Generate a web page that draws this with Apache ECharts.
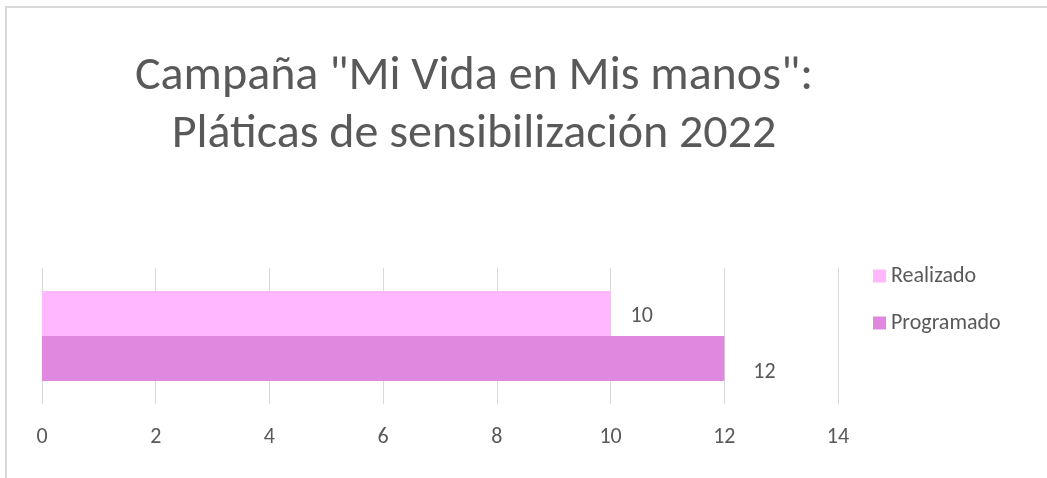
<!DOCTYPE html>
<html>
<head>
<meta charset="utf-8">
<style>
  html, body { margin: 0; padding: 0; background: #ffffff; }
  #chart { width: 1047px; height: 478px; }
</style>
<script src="https://cdn.jsdelivr.net/npm/echarts@6/dist/echarts.min.js"></script>
</head>
<body>
<div id="chart"></div>
<script>
// Campaign talks: completed vs. scheduled
const categories = [''];
const seriesNames = ['Realizado', 'Programado'];
const realizado = [10];
const programado = [12];
const xTicks = [0, 2, 4, 6, 8, 10, 12, 14];

const textColor = '#595959';
const gridColor = '#d9d9d9';
const fontFamily = 'Carlito, Calibri, "Liberation Sans Narrow", Lato, sans-serif';

const chart = echarts.init(document.getElementById('chart'));
chart.setOption({
  animation: false,
  textStyle: { fontFamily: fontFamily },
  title: {
    text: 'Campaña "Mi Vida en Mis manos":\nPláticas de sensibilización 2022',
    left: 469,
    top: 43,
    textAlign: 'center',
    textStyle: {
      fontSize: 48,
      fontWeight: 'normal',
      color: textColor,
      lineHeight: 58,
      fontFamily: fontFamily
    }
  },
  legend: {
    orient: 'vertical',
    left: 868,
    top: 260,
    itemWidth: 13,
    itemHeight: 13,
    itemGap: 25,
    icon: 'rect',
    data: seriesNames,
    textStyle: { fontSize: 22, color: textColor, fontFamily: fontFamily }
  },
  grid: { left: 42, right: 209, top: 268, bottom: 74 },
  xAxis: {
    type: 'value',
    min: xTicks[0],
    max: xTicks[xTicks.length - 1],
    interval: xTicks[1] - xTicks[0],
    axisLine: { show: false },
    axisTick: { show: false },
    axisLabel: { color: textColor, fontSize: 22, margin: 22, fontFamily: fontFamily },
    splitLine: { show: true, lineStyle: { color: gridColor, width: 1 } }
  },
  yAxis: {
    type: 'category',
    data: categories,
    inverse: true,
    axisLine: { show: false },
    axisTick: { show: false },
    axisLabel: { show: false },
    splitLine: { show: false }
  },
  series: [
    {
      name: seriesNames[0],
      type: 'bar',
      data: realizado,
      barWidth: 45,
      barGap: '0%',
      itemStyle: { color: '#ffb7ff' },
      label: {
        show: true, position: 'right', distance: 20, offset: [0, 3],
        color: textColor, fontSize: 22, fontFamily: fontFamily
      }
    },
    {
      name: seriesNames[1],
      type: 'bar',
      data: programado,
      barWidth: 45,
      barGap: '0%',
      itemStyle: { color: '#e088e0' },
      label: {
        show: true, position: 'right', distance: 29, offset: [0, 14],
        color: textColor, fontSize: 22, fontFamily: fontFamily
      }
    }
  ],
  graphic: [
    {
      type: 'polyline',
      shape: { points: [[6, 478], [6, 7], [1047, 7]] },
      style: { stroke: gridColor, lineWidth: 2, fill: null }
    }
  ]
});
</script>
</body>
</html>
